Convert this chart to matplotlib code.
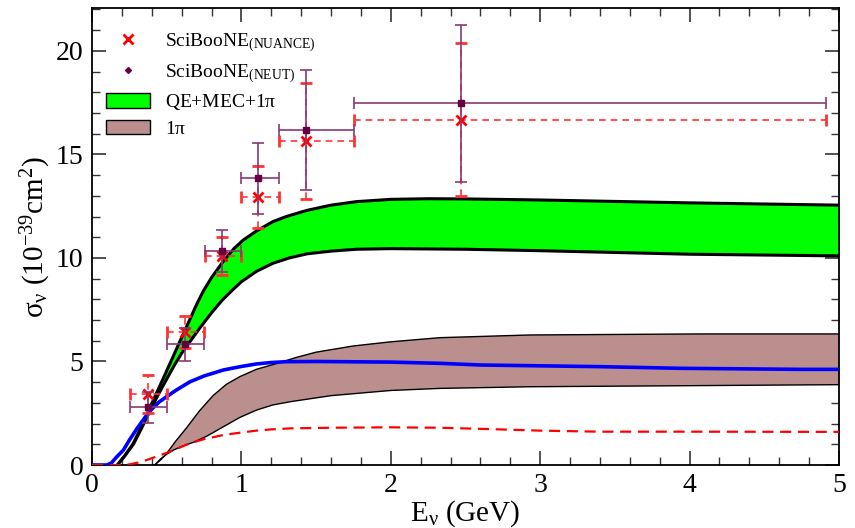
import numpy as np
import matplotlib
matplotlib.use("Agg")
import matplotlib.pyplot as plt
from matplotlib.ticker import MultipleLocator
from matplotlib.patches import Patch
from matplotlib.lines import Line2D

plt.rcParams['font.family'] = ['Liberation Serif', 'DejaVu Serif']
plt.rcParams['mathtext.fontset'] = 'custom'
plt.rcParams['mathtext.rm'] = 'Liberation Serif'
plt.rcParams['mathtext.it'] = 'Liberation Serif:italic'
plt.rcParams['mathtext.default'] = 'rm'

# ---- data ----
# QE+MEC+1pi band
green_up_x = [0.17, 0.22, 0.277, 0.33, 0.377, 0.44, 0.5, 0.55, 0.59, 0.65, 0.7, 0.745, 0.8, 0.88,
              0.95, 1.01, 1.1, 1.21, 1.3, 1.44, 1.6, 1.77, 2.0, 2.25, 2.5, 3.0, 4.0, 5.0]
green_up_y = [0.0, 0.45, 1.05, 1.85, 2.6, 3.6, 4.55, 5.35, 6.0, 6.95, 7.75, 8.4, 9.05, 9.85,
              10.45, 10.85, 11.3, 11.75, 12.0, 12.3, 12.55, 12.72, 12.83, 12.86, 12.85, 12.8, 12.66, 12.55]
green_lo_x = [0.17, 0.22, 0.277, 0.33, 0.377, 0.44, 0.5, 0.55, 0.6, 0.66, 0.72, 0.8, 0.87, 0.94,
              1.0, 1.1, 1.21, 1.32, 1.44, 1.6, 1.77, 2.0, 2.5, 3.0, 4.0, 5.0]
green_lo_y = [0.0, 0.45, 1.0, 1.75, 2.45, 3.35, 4.15, 4.8, 5.4, 6.0, 6.6, 7.35, 7.95, 8.45,
              8.85, 9.35, 9.74, 10.0, 10.2, 10.33, 10.42, 10.45, 10.42, 10.35, 10.18, 10.1]
# 1pi band
brown_up_x = [0.42, 0.46, 0.5, 0.56, 0.63, 0.72, 0.81, 0.9, 0.99, 1.1, 1.24, 1.37, 1.5, 1.75,
              2.0, 2.33, 2.93, 4.07, 5.0]
brown_up_y = [0.0, 0.25, 0.56, 1.15, 1.77, 2.62, 3.35, 3.9, 4.27, 4.62, 4.91, 5.2, 5.45, 5.75,
              5.95, 6.15, 6.28, 6.33, 6.33]
brown_lo_x = [0.42, 0.46, 0.5, 0.545, 0.6, 0.68, 0.77, 0.88, 0.99, 1.1, 1.21, 1.33, 1.6, 2.0,
              2.33, 2.93, 5.0]
brown_lo_y = [0.0, 0.3, 0.52, 0.72, 0.9, 1.1, 1.4, 1.85, 2.3, 2.65, 2.9, 3.06, 3.35, 3.6,
              3.7, 3.78, 3.88]
# blue solid curve
blue_x = [0.0, 0.1, 0.13, 0.16, 0.21, 0.25, 0.3, 0.35, 0.4, 0.45, 0.5, 0.56, 0.656, 0.75, 0.88,
          1.0, 1.1, 1.2, 1.3, 1.5, 2.0, 2.33, 2.6, 3.4, 3.94, 4.74, 5.0]
blue_y = [0.0, 0.0, 0.1, 0.35, 0.72, 1.2, 1.75, 2.25, 2.7, 3.05, 3.3, 3.6, 4.02, 4.3, 4.59,
          4.76, 4.88, 4.95, 4.99, 5.0, 4.97, 4.91, 4.83, 4.75, 4.67, 4.62, 4.62]
# red dashed curve
red_x = [0.0, 0.21, 0.26, 0.31, 0.366, 0.44, 0.52, 0.59, 0.656, 0.75, 0.88, 1.0, 1.1, 1.2, 1.33,
         1.6, 2.0, 2.33, 2.73, 3.0, 3.4, 4.0, 5.0]
red_y = [0.0, 0.0, 0.04, 0.12, 0.24, 0.43, 0.64, 0.85, 1.05, 1.25, 1.45, 1.57, 1.66, 1.72, 1.77,
         1.8, 1.82, 1.8, 1.72, 1.66, 1.61, 1.61, 1.6]

# SciBooNE data
nuance_x = [0.378, 0.62, 0.873, 1.11, 1.43, 2.47]
nuance_y = [3.43, 6.44, 10.1, 12.96, 15.67, 16.67]
nuance_yerr = [0.92, 0.77, 0.9, 1.5, 2.8, 3.7]
neut_x = [0.378, 0.62, 0.873, 1.11, 1.43, 2.47]
neut_y = [2.79, 5.83, 10.33, 13.85, 16.2, 17.47]
neut_yerr = [0.75, 0.79, 1.02, 1.72, 2.9, 3.8]
bin_lo = [0.254, 0.504, 0.757, 1.0, 1.255, 1.755]
bin_hi = [0.5, 0.752, 1.0, 1.25, 1.755, 4.91]

fig = plt.figure(figsize=(8.55, 5.28), dpi=100)
ax = fig.add_axes([0.1076, 0.1193, 0.8737, 0.8655])

green_c = '#00ff00'
brown_c = '#bc8f8f'

ax.fill(np.concatenate([green_up_x, green_lo_x[::-1]]),
        np.concatenate([green_up_y, green_lo_y[::-1]]), color=green_c, lw=0, zorder=2)
ax.plot(green_up_x, green_up_y, color='black', lw=2.2, zorder=3, solid_joinstyle='round')
ax.plot(green_lo_x, green_lo_y, color='black', lw=2.2, zorder=3, solid_joinstyle='round')

ax.fill(np.concatenate([brown_up_x, brown_lo_x[::-1]]),
        np.concatenate([brown_up_y, brown_lo_y[::-1]]), color=brown_c, lw=0, zorder=2)
ax.plot(brown_up_x, brown_up_y, color='black', lw=1.0, zorder=3)
ax.plot(brown_lo_x, brown_lo_y, color='black', lw=1.0, zorder=3)

ax.plot(blue_x, blue_y, color='#0000ff', lw=2.6, zorder=4, solid_joinstyle='round')
ax.plot(red_x, red_y, color='#ff0000', lw=1.6, ls=(0, (5, 3)), zorder=4)

nx = np.array(nuance_x)
xerr_n = [nx - np.array(bin_lo), np.array(bin_hi) - nx]
e1 = ax.errorbar(nuance_x, nuance_y, yerr=nuance_yerr, xerr=xerr_n, fmt='x', color='#ff0000',
                 ecolor='#ff3333', elinewidth=1.2, capsize=4.5, capthick=1.2, ms=7, mew=2, zorder=5)
for lc in e1[2]:
    lc.set_linestyle((0, (4, 3)))

e2 = ax.errorbar(neut_x, neut_y, yerr=neut_yerr, xerr=xerr_n, fmt='s', color='#660044',
                 ecolor='#8a3a72', elinewidth=1.2, capsize=4.5, capthick=1.2, ms=4.5, zorder=6)

ax.set_xlim(0, 5)
ax.set_ylim(0, 22.07)
ax.xaxis.set_major_locator(MultipleLocator(1))
ax.xaxis.set_minor_locator(MultipleLocator(0.2))
ax.yaxis.set_major_locator(MultipleLocator(5))
ax.yaxis.set_minor_locator(MultipleLocator(1))
ax.tick_params(which='both', direction='in', top=True, right=True, labelsize=20, pad=6)
ax.tick_params(which='major', length=10, width=1.2, color='#333333')
ax.tick_params(which='minor', length=6, width=1.0, color='#333333')
for s in ax.spines.values():
    s.set_linewidth(1.3)

ax.set_xlabel(r'E$_{\nu}$ (GeV)', fontsize=21, labelpad=0)
ax.set_ylabel(r'$\sigma_{\nu}$ (10$^{-39}$cm$^{2}$)', fontsize=21, labelpad=2)

handles = [
    Line2D([], [], marker='x', color='#ff0000', ls='none', ms=7, mew=2),
    Line2D([], [], marker='D', color='#660044', ls='none', ms=3),
    Patch(facecolor=green_c, edgecolor='black', lw=1.0),
    Patch(facecolor=brown_c, edgecolor='black', lw=1.0),
]
labels = [r'SciBooNE$_{\rm (NUANCE)}$', r'SciBooNE$_{\rm (NEUT)}$', r'QE+MEC+1$\pi$', r'1$\pi$']
ax.legend(handles, labels, loc='upper left', bbox_to_anchor=(0.0, 0.978), frameon=False,
          fontsize=14, handlelength=2.3, handleheight=0.75, handletextpad=0.75,
          labelspacing=0.4, borderaxespad=0.3)

fig.savefig('out.png', dpi=100)
